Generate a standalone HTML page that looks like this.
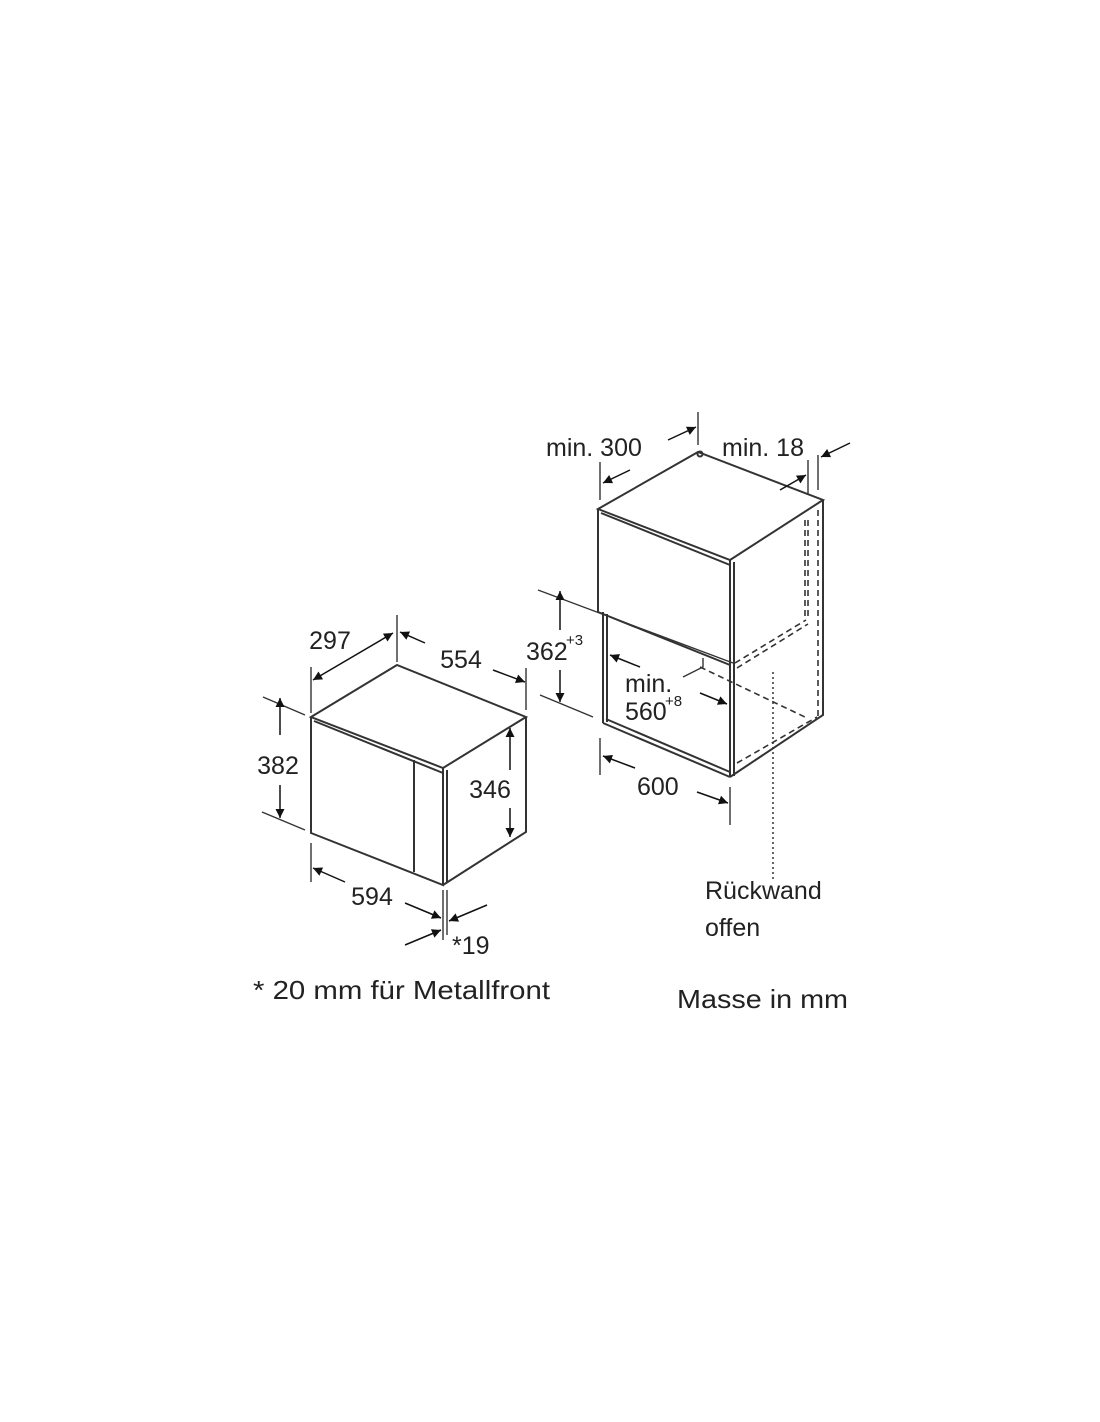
<!DOCTYPE html>
<html><head><meta charset="utf-8"><style>html,body{margin:0;padding:0;background:#fff}svg{display:block}</style></head><body>
<svg width="1100" height="1422" viewBox="0 0 1100 1422" xmlns="http://www.w3.org/2000/svg" font-family="Liberation Sans, Arial, sans-serif" fill="#222">
<defs>
<marker id="a" viewBox="0 0 10 10" refX="10" refY="5" markerWidth="12" markerHeight="9" orient="auto-start-reverse" markerUnits="userSpaceOnUse"><path d="M0,0L10,5L0,10z" fill="#111"/></marker>
</defs>
<g stroke="#333" stroke-width="2" fill="none">
<path d="M311,717 L397,665 L526,717 L443,768 Z"/>
<path d="M314,721 L443,773"/>
<path d="M311,717 V833 L443,885 V768"/>
<path d="M447,770 V883"/>
<path d="M443,885 L526,832 V717"/>
<path d="M414,760 V872"/>
<path d="M311,667 V713 M397,615 V662 M526,668 V710 M263,697 L305,715 M262,812 L305,830 M311,843 V882 M443,890 V940 M447,890 V935" stroke-width="1.4"/>
</g>
<g stroke="#111" stroke-width="1.5" fill="none">
<path d="M313,680 L393,633" marker-start="url(#a)" marker-end="url(#a)"/>
<path d="M425,643 L400,632" marker-end="url(#a)"/>
<path d="M493,670 L525,682" marker-end="url(#a)"/>
<path d="M280,735 V698" marker-end="url(#a)"/>
<path d="M280,785 V818" marker-end="url(#a)"/>
<path d="M510,770 V728" marker-end="url(#a)"/>
<path d="M510,808 V837" marker-end="url(#a)"/>
<path d="M345,882 L313,868" marker-end="url(#a)"/>
<path d="M405,903 L441,918" marker-end="url(#a)"/>
<path d="M487,905 L449,921" marker-end="url(#a)"/>
<path d="M405,945 L441,930" marker-end="url(#a)"/>
</g>
<g font-size="25">
<text x="330" y="649" text-anchor="middle">297</text>
<text x="461" y="668" text-anchor="middle">554</text>
<text x="278" y="774" text-anchor="middle">382</text>
<text x="490" y="798" text-anchor="middle">346</text>
<text x="372" y="905" text-anchor="middle">594</text>
<text x="452" y="954">*19</text>
<text x="546" y="456">min. 300</text>
<text x="722" y="456">min. 18</text>
<text x="526" y="660">362</text><text x="566" y="645" font-size="15">+3</text>
<text x="625" y="692">min.</text>
<text x="625" y="720">560</text><text x="665" y="706" font-size="15">+8</text>
<text x="637" y="795">600</text>
<text x="705" y="899">Rückwand</text>
<text x="705" y="936">offen</text>
<text x="253" y="999" font-size="26" textLength="297" lengthAdjust="spacingAndGlyphs">* 20 mm für Metallfront</text>
<text x="677" y="1008" font-size="26" textLength="171" lengthAdjust="spacingAndGlyphs">Masse in mm</text>
</g>
<g stroke="#333" stroke-width="2" fill="none">
<path d="M598,509 L698,452 L823,500 L730,560 Z"/>
<path d="M601,513 L730,565"/>
<path d="M598,509 V612 L730,665"/>
<path d="M730,560 V777 M734,562 V776"/>
<path d="M603,612 V723 M607,614 V722"/>
<path d="M603,723 L730,777 M606,719 L730,772"/>
<path d="M730,777 L823,715 V500"/>
<circle cx="700" cy="454" r="2.5"/>
<path d="M600,462 V500 M698,412 V445 M808,460 V495 M818,455 V490 M538,590 L733,663 M540,695 L593,717 M600,738 V775 M730,787 V825 M683,677 L703,667 V658" stroke-width="1.4"/>
</g>
<g stroke="#333" stroke-width="1.6" fill="none" stroke-dasharray="6,4">
<path d="M805,520 V620 M808,520 V618"/>
<path d="M818,510 V718"/>
<path d="M735,663 L806,620 M737,668 L808,624"/>
<path d="M737,763 L817,717"/>
<path d="M700,667 L807,718"/>
</g>
<path d="M773,672 V880" stroke="#333" stroke-width="1.5" stroke-dasharray="2,3" fill="none"/>
<g stroke="#111" stroke-width="1.5" fill="none">
<path d="M630,470 L603,483" marker-end="url(#a)"/>
<path d="M668,440 L696,427" marker-end="url(#a)"/>
<path d="M780,490 L806,475" marker-end="url(#a)"/>
<path d="M850,443 L821,457" marker-end="url(#a)"/>
<path d="M560,630 V591" marker-end="url(#a)"/>
<path d="M560,670 V702" marker-end="url(#a)"/>
<path d="M640,667 L610,655" marker-end="url(#a)"/>
<path d="M700,693 L727,704" marker-end="url(#a)"/>
<path d="M635,768 L603,756" marker-end="url(#a)"/>
<path d="M697,792 L728,803" marker-end="url(#a)"/>
</g>
</svg>
</body></html>
